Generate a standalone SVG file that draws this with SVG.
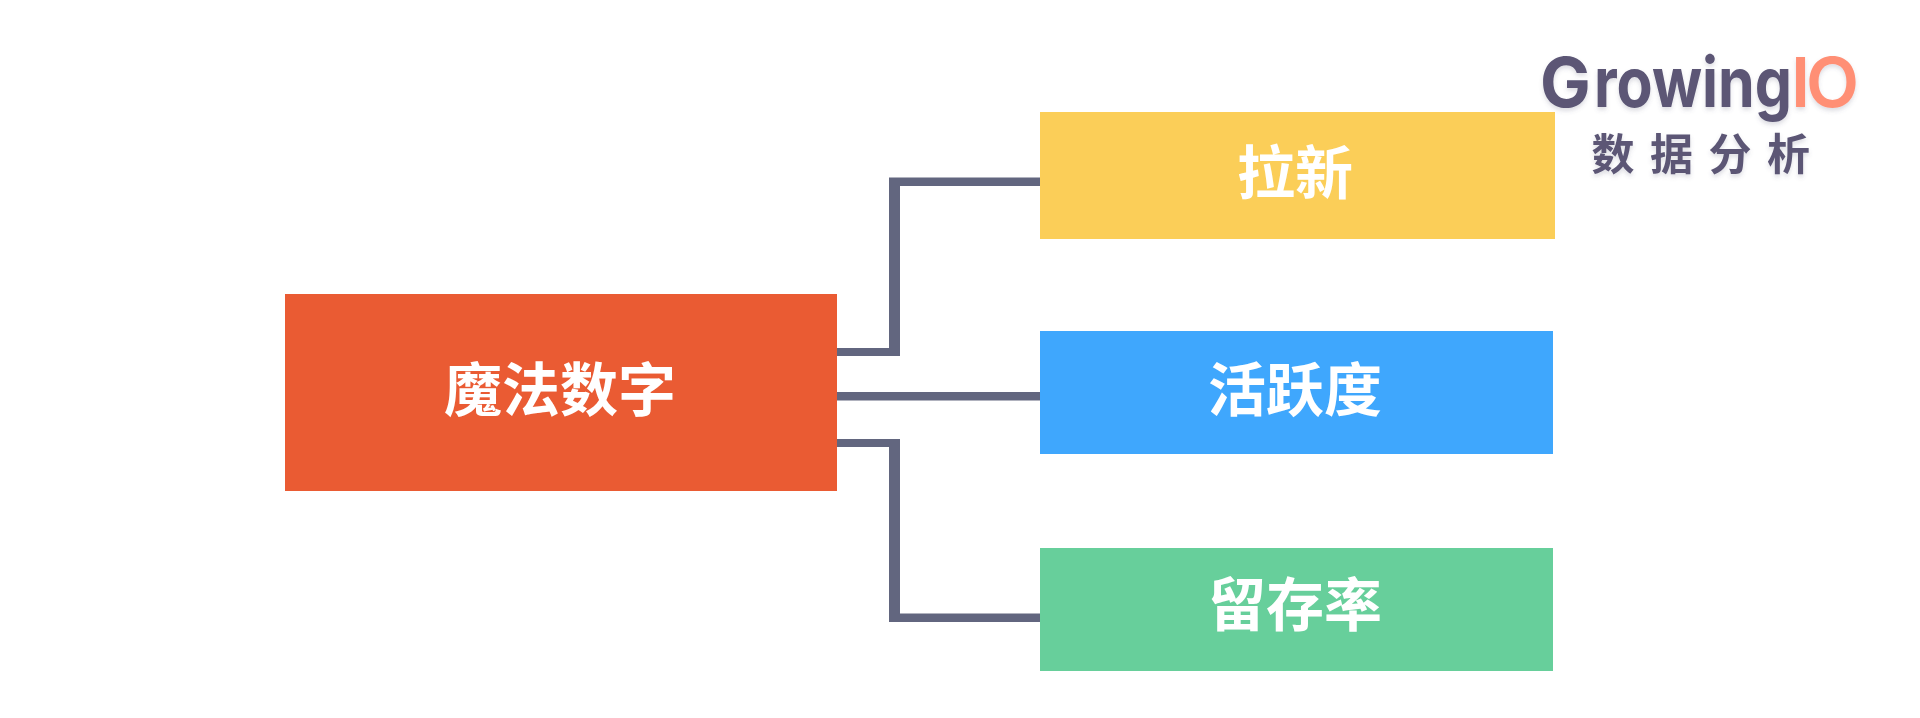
<svg xmlns="http://www.w3.org/2000/svg" width="1920" height="718" viewBox="0 0 1920 718">
<defs>
<filter id="soft" x="-5%" y="-5%" width="110%" height="115%"><feDropShadow dx="0" dy="3" stdDeviation="2" flood-color="#5b5675" flood-opacity="0.2"/></filter>
</defs>
<style>
.box{stroke:none}
.lbl{font-family:"Noto Sans CJK SC","Noto Sans",sans-serif;font-size:58px;font-weight:700;fill:#fff;text-anchor:middle}
.conn{fill:#62667f;stroke:none}
.logo{font-family:Inter,"Noto Sans",sans-serif;font-size:69px;font-weight:700;fill:#5b5675}
.sub{font-family:"Noto Sans CJK SC",sans-serif;font-size:43px;font-weight:700;fill:#5b5675}
</style>
<rect width="1920" height="718" fill="#fff"/>
<g id="connectors">
<path class="conn" d="M837 348H889V177.500H1040V186H900V356H837Z"/>
<path class="conn" d="M835 392H1042V400.500H835Z"/>
<path class="conn" d="M837 439H900V613.500H1042V622H889V447H837Z"/>
</g>
<g id="node-root"><rect class="box" x="285" y="294" width="552" height="197" fill="#ea5b33"/><text class="lbl" x="560" y="411">魔法数字</text></g>
<g id="node-a"><rect class="box" x="1040" y="112" width="515" height="127" fill="#fbce58"/><text class="lbl" x="1295" y="194">拉新</text></g>
<g id="node-b"><rect class="box" x="1040" y="331" width="513" height="123" fill="#3fa7fd"/><text class="lbl" x="1295" y="411">活跃度</text></g>
<g id="node-c"><rect class="box" x="1040" y="548" width="513" height="123" fill="#67cf9b"/><text class="lbl" x="1295" y="626">留存率</text></g>
<g id="logo" filter="url(#soft)">
<text class="logo" transform="translate(1540 107) scale(.98 1)">G</text>
<text class="logo" transform="translate(1594 107) scale(.855 1)">rowing</text>
<text class="logo" transform="translate(1791 107)" x="0 15" style="fill:#ff8f75;font-weight:600">IO</text>
<text class="sub" x="1591.500 1650 1708.500 1767" y="170">数据分析</text>
</g>
</svg>
